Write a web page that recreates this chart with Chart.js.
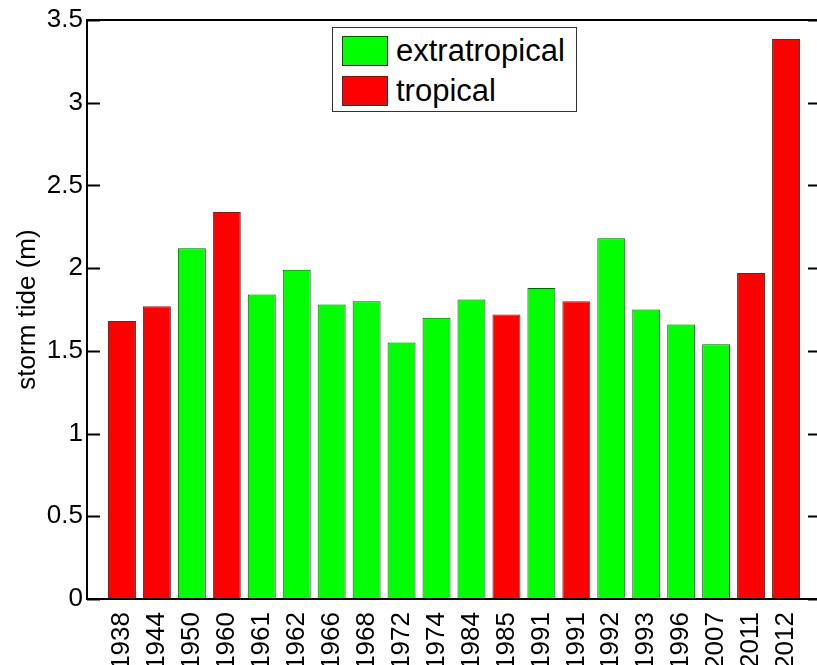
<!DOCTYPE html>
<html>
<head>
<meta charset="utf-8">
<script src="https://cdn.jsdelivr.net/npm/chart.js@4/dist/chart.umd.min.js"></script>
<style>
  body { margin: 0; overflow: hidden; background: #fff; font-family: "Liberation Sans", Arial, sans-serif; }
  #wrap { position: relative; width: 840px; height: 665px; }
  #legend { position: absolute; left: 332px; top: 27px; width: 243px; height: 83px;
            border: 1.5px solid #333; background: #fff; }
  .item { position: absolute; left: 9px; height: 31px; display: flex; align-items: center; }
  .swatch { width: 46px; height: 30px; border: 1px solid #333; box-sizing: border-box; margin-right: 8px; }
  .item span { font-size: 31px; color: #000; line-height: 31px; }
</style>
</head>
<body>
<div id="wrap">
  <canvas id="chart"></canvas>
  <div id="legend"></div>
</div>
<script>
const years = ['1938', '1944', '1950', '1960', '1961', '1962', '1966', '1968', '1972', '1974',
               '1984', '1985', '1991', '1991', '1992', '1993', '1996', '2007', '2011', '2012'];
const tides = [1.68, 1.77, 2.12, 2.34, 1.84, 1.99, 1.78, 1.80, 1.55, 1.70,
               1.81, 1.72, 1.88, 1.80, 2.18, 1.75, 1.66, 1.54, 1.97, 3.385];
const kinds = ['T', 'T', 'E', 'T', 'E', 'E', 'E', 'E', 'E', 'E',
               'E', 'T', 'E', 'T', 'E', 'E', 'E', 'E', 'T', 'T'];
const yTicks = [0, 0.5, 1, 1.5, 2, 2.5, 3, 3.5];

const groups = [
  { key: 'E', label: 'extratropical', color: '#00ff00' },
  { key: 'T', label: 'tropical', color: '#ff0000' }
];

function pointsFor(key) {
  const pts = [];
  tides.forEach((v, i) => { if (kinds[i] === key) pts.push({ x: i + 1, y: v }); });
  return pts;
}

// matlab style box with inward ticks on both sides
const boxPlugin = {
  id: 'box',
  afterDraw(chart) {
    const { ctx, chartArea: a, scales: { y } } = chart;
    ctx.save();
    ctx.strokeStyle = '#000';
    ctx.lineWidth = 2;
    ctx.strokeRect(a.left, a.top, a.right - a.left, a.bottom - a.top);
    ctx.beginPath();
    y.ticks.forEach(t => {
      const py = Math.round(y.getPixelForValue(t.value)) + 0.5;
      ctx.moveTo(a.left, py); ctx.lineTo(a.left + 13, py);
      ctx.moveTo(a.right - 13, py); ctx.lineTo(a.right, py);
    });
    ctx.stroke();
    ctx.restore();
  }
};

const ctx = document.getElementById('chart').getContext('2d');
const chart = new Chart(ctx, {
  type: 'bar',
  data: {
    datasets: groups.map(g => ({
      label: g.label,
      data: pointsFor(g.key),
      backgroundColor: g.color,
      borderColor: '#3a3a3a',
      borderWidth: 1,
      grouped: false,
      barPercentage: 0.8,
      categoryPercentage: 1.0
    }))
  },
  options: {
    responsive: true,
    maintainAspectRatio: false,
    animation: false,
    layout: { padding: { left: 0, top: 20, right: 19, bottom: 0 } },
    plugins: { legend: { display: false }, tooltip: { enabled: false } },
    scales: {
      x: {
        type: 'linear',
        min: 0,
        max: 21,
        offset: false,
        grid: { display: false },
        border: { display: false },
        afterBuildTicks: s => { s.ticks = years.map((_, i) => ({ value: i + 1 })); },
        afterFit: s => { s.height = 66; },
        ticks: {
          autoSkip: false,
          minRotation: 90,
          maxRotation: 90,
          padding: 5,
          color: '#000',
          font: { family: 'Liberation Sans', size: 26 },
          callback: v => years[v - 1]
        }
      },
      y: {
        min: 0,
        max: 3.5,
        grid: { display: false, drawTicks: false },
        border: { display: false },
        afterBuildTicks: s => { s.ticks = yTicks.map(v => ({ value: v })); },
        afterFit: s => { s.width = 87; },
        ticks: {
          padding: 4,
          color: '#000',
          font: { family: 'Liberation Sans', size: 26 },
          callback: v => String(v)
        },
        title: {
          display: true,
          text: 'storm tide (m)',
          color: '#000',
          padding: { top: 12, bottom: 0 },
          font: { family: 'Liberation Sans', size: 26 }
        }
      }
    }
  },
  plugins: [boxPlugin]
});

const legend = document.getElementById('legend');
groups.forEach((g, i) => {
  const item = document.createElement('div');
  item.className = 'item';
  item.style.top = (7 + i * 40) + 'px';
  item.innerHTML = '<div class="swatch" style="background:' + g.color + '"></div><span>' + g.label + '</span>';
  legend.appendChild(item);
});
</script>
</body>
</html>
